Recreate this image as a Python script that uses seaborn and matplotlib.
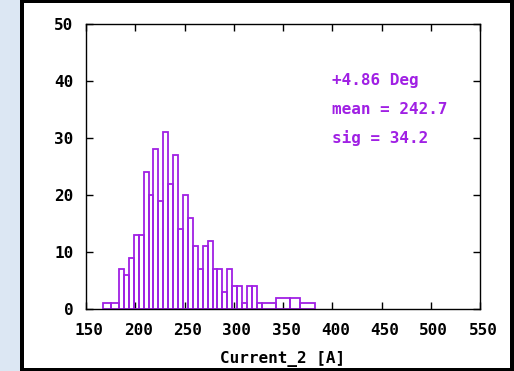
import matplotlib
matplotlib.use("Agg")
import matplotlib.pyplot as plt
import matplotlib.transforms as mtransforms
from matplotlib.patches import Rectangle
import numpy as np
import seaborn as sns

# histogram (gnuplot boxes, empty bins merged into neighbours)
bin_edges = [167, 175.5, 183.5, 188.5, 193.5, 198.5, 203.5, 208.5, 213.5, 218.5,
             223.5, 228.5, 233.5, 238.5, 243.5, 248.5, 253.5, 258.5, 263.5, 268.5,
             273.5, 278.5, 283.5, 288.5, 293.5, 298.5, 303.5, 308.5, 313.5, 318.5,
             323.5, 328.5, 343, 357.5, 367, 382.5]
counts = [1, 1, 7, 6, 9, 13, 13, 24, 20, 28, 19, 31, 22, 27, 14, 20, 16, 11, 7,
          11, 12, 7, 7, 3, 7, 4, 4, 1, 4, 4, 1, 1, 2, 2, 1]

x_ticks = [150, 200, 250, 300, 350, 400, 450, 500, 550]
y_ticks = [0, 10, 20, 30, 40, 50]
stats_lines = ["+4.86 Deg", "mean = 242.7", "sig = 34.2"]
stats_y = [40, 35, 30]

purple = "#a020e4"
W, H = 514, 371

sns.set_style("ticks")
plt.rcParams["font.family"] = ["DejaVu Sans Mono"]
plt.rcParams["font.weight"] = "bold"

fig = plt.figure(figsize=(W / 100, H / 100), dpi=100)
fig.patch.set_facecolor("#dce7f3")

# black frame with white inside (screenshot border)
fig.add_artist(Rectangle((20 / W, 0), (W - 20) / W, 1, transform=fig.transFigure,
                         facecolor="black", edgecolor="none", zorder=-3))
fig.add_artist(Rectangle((24 / W, 3 / H), (510 - 24) / W, (368 - 3) / H,
                         transform=fig.transFigure, facecolor="white",
                         edgecolor="none", zorder=-2))

ax = fig.add_axes([86 / W, (H - 309) / H, (480 - 86) / W, (309 - 24) / H])
ax.set_facecolor("white")

edges = np.array(bin_edges)
centers = (edges[:-1] + edges[1:]) / 2
sns.histplot(x=centers, weights=counts, bins=bin_edges, element="bars",
             fill=False, color=purple, linewidth=1.3, ax=ax)

for txt, yv in zip(stats_lines, stats_y):
    ax.text(400, yv, txt, color=purple, fontsize=11.5, fontweight="bold",
            ha="left", va="center")

ax.set_xlim(150, 550)
ax.set_ylim(0, 50)
ax.set_xticks(x_ticks)
ax.set_yticks(y_ticks)
ax.set_ylabel("")
ax.set_xlabel("Current_2 [A]", fontsize=11.5, fontweight="bold", color="black")
ax.xaxis.set_label_coords(0.5, -50 / 285)
ax.xaxis.label.set_va("center")

ax.tick_params(direction="in", length=5, width=1, top=True, right=True,
               labelsize=11.5, colors="black")
ax.tick_params(axis="y", pad=9)
ax.tick_params(axis="x", pad=10)
for lab in ax.get_xticklabels():
    lab.set_transform(lab.get_transform() +
                      mtransforms.ScaledTranslation(3 / 100, 0, fig.dpi_scale_trans))
for sp in ax.spines.values():
    sp.set_visible(True)
    sp.set_linewidth(1)
    sp.set_color("black")

fig.savefig("out.png", dpi=100)
